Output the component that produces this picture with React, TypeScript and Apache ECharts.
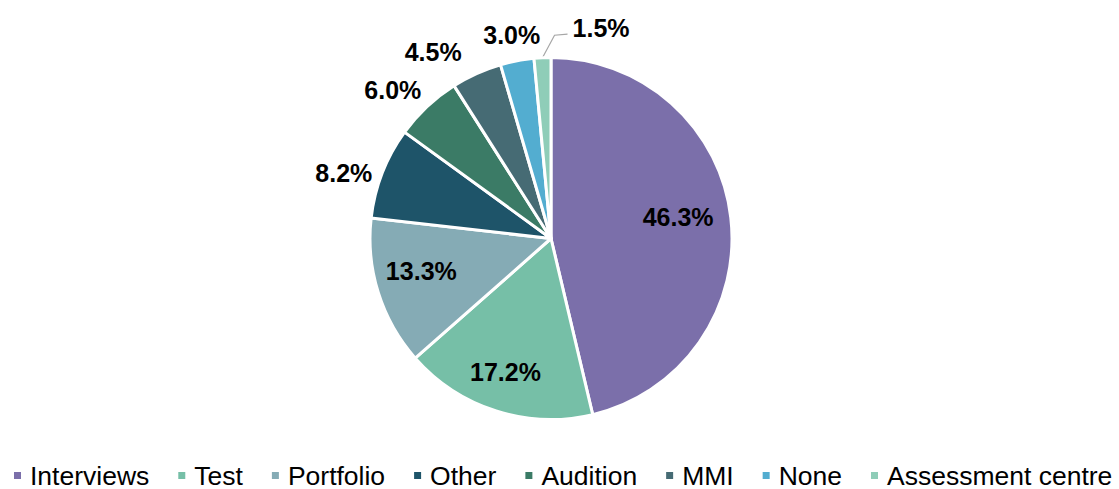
import React, { useEffect, useRef } from 'react';
import * as echarts from 'echarts';

const categories = ['Interviews', 'Test', 'Portfolio', 'Other', 'Audition', 'MMI', 'None', 'Assessment centre'];
const values = [46.3, 17.2, 13.3, 8.2, 6.0, 4.5, 3.0, 1.5];
const colors = ['#7B6FAA', '#76BFA7', '#85ABB5', '#1E5469', '#3B7B66', '#466B74', '#53ADD0', '#8FCDB8'];
const insideLabelCount = 3;

// label styling for outside labels (per slice after the first three)
const outsideLineLength = [0, 0, 0, 0, 23, 24, 26, 20];
const outsideLabelDistance = [0, 0, 0, 10, -10, 5, -28, 5];
// small nudges for inside labels
const insideShiftX = [-9, -4, 1];
const insideShiftY = [-6, 3, -9];

const FONT = "'Liberation Sans', Arial, Helvetica, sans-serif";
const fmt = (v: number) => v.toFixed(1) + '%';

export default function App() {
  const ref = useRef<HTMLDivElement>(null);
  useEffect(() => {
    if (!ref.current) return;
    const chart = echarts.init(ref.current, undefined, { renderer: 'svg' });
    const center = [551, 238.5];
    const last = values.length - 1;
    const mainData = categories.map((name, i) => {
      const inside = i < insideLabelCount;
      return {
        name,
        value: values[i],
        itemStyle: { color: colors[i] },
        label: inside
          ? { show: false }
          : {
              show: true,
              position: 'outside',
              distanceToLabelLine: outsideLabelDistance[i],
            },
        labelLine: {
          show: i === last,
          length: outsideLineLength[i],
          length2: i === last ? 8 : 0,
          lineStyle: { color: '#A6A6A6', width: 1.2 },
        },
      };
    });
    const overlayData = categories.map((name, i) => ({
      name,
      value: values[i],
      label: { show: i < insideLabelCount },
    }));
    chart.setOption({
      animation: false,
      backgroundColor: '#ffffff',
      legend: {
        data: categories,
        top: 457,
        left: 7,
        icon: 'rect',
        itemWidth: 9,
        itemHeight: 9,
        itemGap: 27,
        selectedMode: false,
        textStyle: {
          fontSize: 26.5,
          lineHeight: 22,
          color: '#000',
          fontFamily: FONT,
          padding: [0, 0, 0, 3],
        },
      },
      series: [
        {
          type: 'pie',
          center,
          radius: 181,
          startAngle: 90,
          clockwise: true,
          avoidLabelOverlap: false,
          silent: true,
          itemStyle: { borderColor: '#ffffff', borderWidth: 3 },
          label: {
            formatter: (p: any) => fmt(p.value),
            fontSize: 25,
            fontWeight: 'bold',
            color: '#000',
            fontFamily: FONT,
          },
          labelLayout: (p: any) => {
            if (p.dataIndex !== last || !p.labelLinePoints) return {};
            const dx = 44;
            const dy = -10;
            const anchorX = p.labelRect.x + p.labelRect.width;
            const left = anchorX + dx;
            const cy = p.labelRect.y + p.labelRect.height / 2 + dy;
            const start = p.labelLinePoints[0];
            return {
              dx,
              dy,
              align: 'left',
              labelLinePoints: [start, [left - 18, cy + 7.5], [left - 5, cy + 6.5]],
            };
          },
          data: mainData,
        },
        {
          type: 'pie',
          center,
          radius: 268,
          startAngle: 90,
          clockwise: true,
          silent: true,
          legendHoverLink: false,
          avoidLabelOverlap: false,
          itemStyle: { color: 'rgba(0,0,0,0)', borderWidth: 0 },
          labelLine: { show: false },
          label: {
            position: 'inside',
            formatter: (p: any) => fmt(p.value),
            fontSize: 25,
            fontWeight: 'bold',
            color: '#000',
            fontFamily: FONT,
          },
          labelLayout: (p: any) =>
            p.dataIndex < insideLabelCount
              ? { dx: insideShiftX[p.dataIndex], dy: insideShiftY[p.dataIndex] }
              : {},
          data: overlayData,
          z: 3,
        },
      ],
    });
    return () => chart.dispose();
  }, []);
  return <div ref={ref} style={{ position: 'absolute', left: 0, top: 0, width: 1119, height: 489 }} />;
}
